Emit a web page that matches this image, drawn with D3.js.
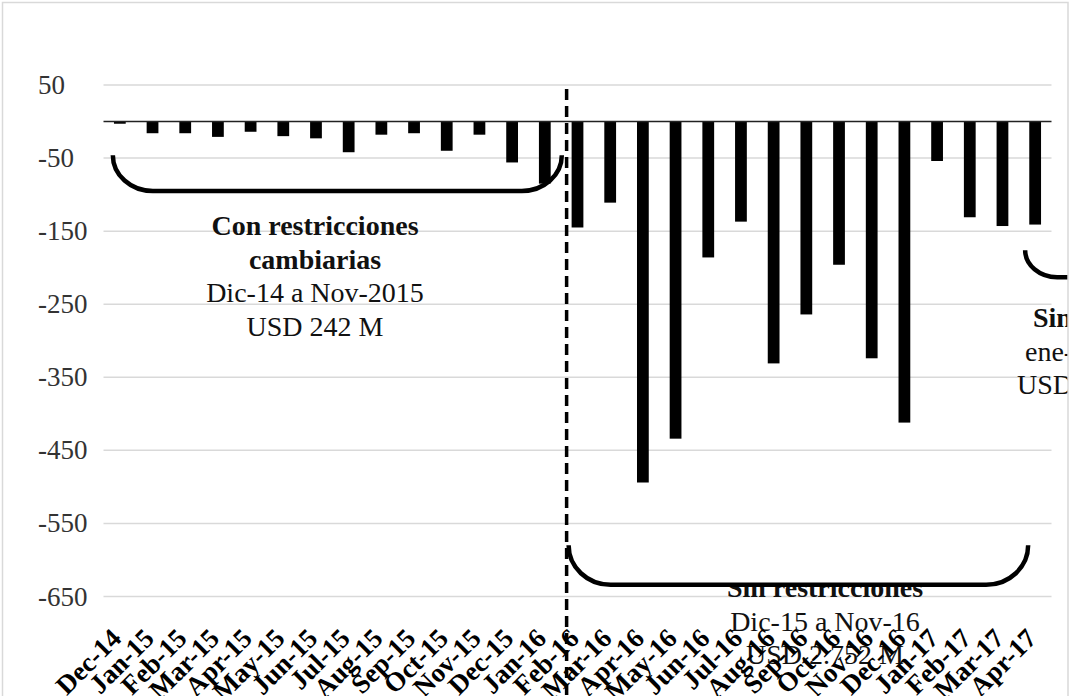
<!DOCTYPE html>
<html>
<head>
<meta charset="utf-8">
<script src="https://cdn.jsdelivr.net/npm/d3@7/dist/d3.min.js"></script>
<style>
  html, body { margin: 0; padding: 0; background: #fff; }
  svg { display: block; }
  svg text { font-family: "Liberation Serif", "DejaVu Serif", serif; }
</style>
</head>
<body>
<svg id="chart" width="1072" height="696"></svg>
<script>
// Monthly net flows (USD millions)
const months = [
  "Dec-14","Jan-15","Feb-15","Mar-15","Apr-15","May-15","Jun-15","Jul-15","Aug-15",
  "Sep-15","Oct-15","Nov-15","Dec-15","Jan-16","Feb-16","Mar-16","Apr-16","May-16",
  "Jun-16","Jul-16","Aug-16","Sep-16","Oct-16","Nov-16","Dec-16","Jan-17","Feb-17",
  "Mar-17","Apr-17"
];
const flows = [
  -3, -16, -16, -21, -14, -20, -23, -42, -18, -16, -40, -18, -56,
  -85, -145, -111, -494, -434, -186, -137, -331, -264, -196, -324, -412,
  -54, -131, -143, -141
];
const yTicks = [50, -50, -150, -250, -350, -450, -550, -650];

// Period annotations: [text, bold]
const periodA = [["Con restricciones", true], ["cambiarias", true], ["Dic-14 a Nov-2015", false], ["USD 242 M", false]];
const periodB = [["Sin restricciones", true], ["Dic-15 a Nov-16", false], ["USD 2.752 M", false]];
const periodC = [["Sin restricciones", true], ["ene-17 a abr-17", false], ["USD 469 M", false]];

const W = 1072, H = 696;
const FONT = "Liberation Serif, DejaVu Serif, serif";
const svg = d3.select("#chart");

svg.append("defs").append("clipPath").attr("id", "frame")
  .append("rect").attr("x", 0).attr("y", 0).attr("width", 1068).attr("height", H);

const root = svg.append("g").attr("clip-path", "url(#frame)");

const x = d3.scaleBand().domain(months).range([103.5, 1051.5])
  .paddingInner(0.64).paddingOuter(0.32);
const y = d3.scaleLinear().domain([-650, 50]).range([596.5, 85]);
const cx = m => x(m) + x.bandwidth() / 2;

// Horizontal gridlines
root.append("g").selectAll("line").data(yTicks).join("line")
  .attr("x1", 103.5).attr("x2", 1051.5)
  .attr("y1", d => y(d)).attr("y2", d => y(d))
  .attr("stroke", "#d9d9d9").attr("stroke-width", 1.5);

// Y axis labels (left aligned)
root.append("g").selectAll("text").data(yTicks).join("text")
  .attr("x", 38).attr("y", d => y(d))
  .attr("dominant-baseline", "central")
  .attr("font-family", FONT)
  .attr("font-size", 27).attr("fill", "#333")
  .text(d => String(d));

// Bars
root.append("g").selectAll("rect").data(months).join("rect")
  .attr("x", d => x(d))
  .attr("width", x.bandwidth())
  .attr("y", (d, i) => Math.min(y(0), y(flows[i])))
  .attr("height", (d, i) => Math.abs(y(flows[i]) - y(0)))
  .attr("fill", "#000");

// Zero baseline
root.append("line")
  .attr("x1", 103.5).attr("x2", 1051.5)
  .attr("y1", y(0)).attr("y2", y(0))
  .attr("stroke", "#222").attr("stroke-width", 1.5);

// Regime change divider
const divX = x("Feb-16") - 5;
root.append("line")
  .attr("x1", divX).attr("x2", divX)
  .attr("y1", 89).attr("y2", H)
  .attr("stroke", "#000").attr("stroke-width", 3.5)
  .attr("stroke-dasharray", "11 6");

// Annotation text blocks
function textBlock(lines, xPos, yStart, anchor) {
  const g = root.append("g");
  lines.forEach(([t, bold], i) => {
    const xi = Array.isArray(xPos) ? xPos[i] : xPos;
    g.append("text")
      .attr("x", xi).attr("y", yStart + i * 33.5)
      .attr("text-anchor", anchor)
      .attr("font-family", FONT)
      .attr("font-size", 28)
      .attr("font-weight", bold ? "bold" : "normal")
      .attr("fill", "#111")
      .text(t);
  });
}
textBlock(periodA, 315, 235, "middle");
textBlock(periodB, 825, 597, "middle");
textBlock(periodC, [1033, 1025, 1017], 327, "start");

// Curved brackets under each period
function bracket(x0, x1, yTop, yBot, rx, fill) {
  const ry = yBot - yTop;
  const p = `M${x0},${yTop} A${rx},${ry} 0 0 0 ${x0 + rx},${yBot} L${x1 - rx},${yBot} A${rx},${ry} 0 0 0 ${x1},${yTop}`;
  root.append("path").attr("d", p)
    .attr("fill", fill).attr("stroke", "#000").attr("stroke-width", 4.5)
    .attr("stroke-linecap", "butt");
}
bracket(cx("Dec-14") - 7, cx("Jan-16") + 17, y(-46), y(-95), 40, "none");
bracket(divX + 2, cx("Apr-17") - 7, y(-580), y(-634), 42, "#fff");
bracket(cx("Apr-17") - 10, cx("Apr-17") + 110, y(-176), y(-213), 32, "none");

// X axis labels, rotated
root.append("g").selectAll("text").data(months).join("text")
  .attr("transform", d => `translate(${cx(d) + 3},640) rotate(-45)`)
  .attr("text-anchor", "end")
  .attr("font-family", FONT)
  .attr("font-size", 27).attr("font-weight", "bold").attr("fill", "#000")
  .text(d => d);

// Chart frame
svg.append("rect")
  .attr("x", 2.5).attr("y", 2.5).attr("width", 1065.5).attr("height", H + 10)
  .attr("fill", "none").attr("stroke", "#d9d9d9").attr("stroke-width", 1.5);
</script>
</body>
</html>
